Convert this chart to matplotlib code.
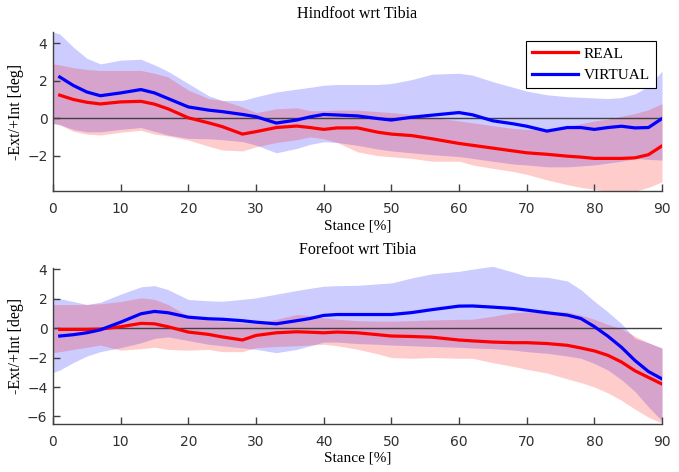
import numpy as np
import matplotlib
matplotlib.use("Agg")
import matplotlib.pyplot as plt

nan = np.nan
stance = [0, 1, 3, 5, 7, 10, 13, 15, 17, 20, 23, 25, 28, 30, 33, 36, 38, 40, 42, 45,
          48, 50, 53, 56, 60, 62, 65, 68, 70, 73, 76, 78, 80, 82, 84, 86, 88, 90]

# ---- Hindfoot wrt Tibia ----
hind_real_mean = [nan, 1.23, 1.0, 0.85, 0.76, 0.87, 0.9, 0.75, 0.5, 0.02, -0.25, -0.45, -0.85, -0.72,
                  -0.5, -0.42, -0.5, -0.6, -0.52, -0.52, -0.75, -0.85, -0.93, -1.1, -1.35, -1.45,
                  -1.6, -1.75, -1.85, -1.93, -2.03, -2.08, -2.15, -2.15, -2.15, -2.12, -1.95, -1.48]
hind_real_upper = [2.9, 2.85, 2.7, 2.6, 2.55, 2.55, 2.55, 2.4, 2.2, 1.5, 1.05, 0.95, 0.6, 0.3, 0.5,
                   0.55, 0.4, 0.4, 0.43, 0.43, 0.35, 0.3, 0.2, 0.05, -0.15, -0.25, -0.4, -0.55,
                   -0.6, -0.6, -0.45, -0.3, -0.15, -0.05, 0.1, 0.25, 0.45, 0.78]
hind_real_lower = [-0.28, -0.35, -0.7, -0.85, -0.9, -0.75, -0.65, -0.85, -0.95, -1.17, -1.5, -1.7,
                   -1.75, -1.53, -1.3, -1.15, -1.0, -1.1, -1.3, -1.8, -2.0, -2.06, -2.15, -2.3,
                   -2.3, -2.5, -2.68, -2.85, -3.0, -3.3, -3.55, -3.7, -3.8, -3.9, -3.95, -3.9,
                   -3.7, -3.4]
hind_virt_mean = [nan, 2.2, 1.75, 1.4, 1.2, 1.35, 1.53, 1.35, 1.05, 0.6, 0.43, 0.35, 0.2, 0.08,
                  -0.26, -0.1, 0.07, 0.2, 0.17, 0.12, -0.02, -0.1, 0.05, 0.16, 0.3, 0.18, -0.14,
                  -0.3, -0.43, -0.69, -0.5, -0.5, -0.6, -0.5, -0.43, -0.52, -0.5, -0.02]
hind_virt_upper = [4.6, 4.5, 3.8, 3.2, 2.9, 3.1, 3.15, 2.85, 2.5, 1.85, 1.2, 0.95, 0.95, 1.14, 1.4,
                   1.55, 1.65, 1.76, 1.8, 1.8, 1.8, 1.85, 2.06, 2.35, 2.4, 2.3, 1.95, 1.65, 1.45,
                   1.25, 1.15, 1.12, 1.08, 1.05, 1.1, 1.3, 1.7, 2.52]
hind_virt_lower = [-0.28, -0.35, -0.6, -0.73, -0.73, -0.6, -0.5, -0.7, -0.9, -1.08, -1.1, -1.15,
                   -1.25, -1.44, -1.85, -1.62, -1.4, -1.26, -1.3, -1.45, -1.65, -1.75, -1.85,
                   -1.95, -2.05, -2.15, -2.3, -2.45, -2.5, -2.6, -2.6, -2.55, -2.5, -2.4, -2.3,
                   -2.15, -2.2, -2.24]

# ---- Forefoot wrt Tibia ----
fore_real_mean = [nan, -0.09, -0.09, -0.09, -0.07, 0.09, 0.32, 0.29, 0.09, -0.27, -0.43, -0.6,
                  -0.81, -0.5, -0.32, -0.25, -0.28, -0.32, -0.27, -0.32, -0.45, -0.54, -0.57,
                  -0.62, -0.81, -0.87, -0.95, -0.99, -0.99, -1.05, -1.17, -1.35, -1.55, -1.85,
                  -2.3, -2.9, -3.35, -3.8]
fore_real_upper = [1.6, 1.6, 1.6, 1.6, 1.65, 1.8, 2.05, 1.95, 1.6, 0.81, 0.55, 0.47, 0.35, 0.32,
                   0.6, 0.92, 0.85, 0.7, 0.6, 0.5, 0.47, 0.47, 0.5, 0.55, 0.59, 0.6, 0.8, 1.05,
                   1.1, 1.1, 1.1, 0.88, 0.6, 0.25, -0.05, -0.55, -1.0, -1.37]
fore_real_lower = [-1.67, -1.6, -1.45, -1.3, -1.15, -1.5, -1.4, -1.3, -1.45, -1.5, -1.45, -1.6,
                   -1.6, -1.33, -1.25, -1.2, -1.15, -1.1, -1.2, -1.44, -1.75, -2.0, -2.05, -2.0,
                   -2.05, -2.05, -2.35, -2.6, -2.8, -3.05, -3.45, -3.7, -4.0, -4.4, -4.9, -5.5,
                   -6.05, -6.45]
fore_virt_mean = [nan, -0.54, -0.45, -0.32, -0.12, 0.4, 0.97, 1.13, 1.04, 0.74, 0.63, 0.6, 0.5,
                  0.4, 0.29, 0.5, 0.65, 0.86, 0.92, 0.92, 0.92, 0.92, 1.05, 1.25, 1.49, 1.5, 1.42,
                  1.33, 1.22, 1.04, 0.88, 0.65, 0.1, -0.55, -1.3, -2.2, -2.95, -3.45]
fore_virt_upper = [2.05, 2.0, 1.8, 1.6, 1.75, 2.3, 2.8, 2.88, 2.61, 1.94, 1.85, 1.82, 1.95, 2.05,
                   2.3, 2.55, 2.7, 2.84, 2.88, 2.9, 3.0, 3.06, 3.4, 3.68, 3.85, 4.0, 4.19, 3.8,
                   3.51, 3.45, 3.2, 2.61, 1.82, 1.1, 0.3, -0.7, -1.0, -1.35]
fore_virt_lower = [-3.02, -2.85, -2.34, -1.9, -1.6, -1.33, -1.0, -0.7, -0.6, -0.85, -1.1, -1.2,
                   -1.35, -1.44, -1.67, -1.45, -1.2, -0.95, -0.95, -1.05, -1.1, -1.15, -1.2,
                   -1.25, -1.3, -1.35, -1.4, -1.49, -1.6, -1.71, -1.9, -2.05, -2.4, -2.85, -3.5,
                   -4.3, -5.35, -6.3]

titles = ["Hindfoot wrt Tibia", "Forefoot wrt Tibia"]
xlabel = "Stance [%]"
ylabel = "-Ext/+Int [deg]"
legend_labels = ["REAL", "VIRTUAL"]
x_ticks = [0, 10, 20, 30, 40, 50, 60, 70, 80, 90]
y_ticks = [[-2, 0, 2, 4], [-6, -4, -2, 0, 2, 4]]
y_limits = [(-3.9, 4.6), (-6.5, 4.07)]

serif = ["Liberation Serif", "DejaVu Serif"]

fig = plt.figure(figsize=(6.79, 4.72), dpi=100)
ax1 = fig.add_axes([0.078, 0.595, 0.897, 0.337])
ax2 = fig.add_axes([0.078, 0.102, 0.897, 0.330])

panels = [
    (ax1, hind_real_mean, hind_real_upper, hind_real_lower,
     hind_virt_mean, hind_virt_upper, hind_virt_lower),
    (ax2, fore_real_mean, fore_real_upper, fore_real_lower,
     fore_virt_mean, fore_virt_upper, fore_virt_lower),
]

x = np.array(stance, dtype=float)
for i, (ax, rm, ru, rl, vm, vu, vl) in enumerate(panels):
    clip = (i == 0)
    ax.fill_between(x, vl, vu, color="blue", alpha=0.2, linewidth=0, clip_on=clip)
    ax.fill_between(x, rl, ru, color="red", alpha=0.2, linewidth=0, clip_on=clip)
    ax.axhline(0, color="#404040", linewidth=1.0, zorder=2)
    lr, = ax.plot(x, rm, color="red", linewidth=2.3, label=legend_labels[0], zorder=3)
    lv, = ax.plot(x, vm, color="blue", linewidth=2.3, label=legend_labels[1], zorder=3)
    ax.set_xlim(0, 90)
    ax.set_ylim(*y_limits[i])
    ax.set_xticks(x_ticks)
    ax.set_yticks(y_ticks[i])
    for s in ("top", "right"):
        ax.spines[s].set_visible(False)
    for s in ("left", "bottom"):
        ax.spines[s].set_color("#404040")
        ax.spines[s].set_linewidth(1.0)
    ax.tick_params(direction="in", length=5, width=1, colors="#404040",
                   labelcolor="#303030", labelsize=10)
    ax.tick_params(axis="x", pad=8)
    ax.tick_params(axis="y", pad=4)
    ax.set_title(titles[i], fontsize=11.5, family=serif, pad=10)
    ax.set_xlabel(xlabel, fontsize=11, family=serif, labelpad=2)
    ax.set_ylabel(ylabel, fontsize=11.5, family=serif)
    ax.yaxis.set_label_coords(-0.048, 0.5)
    if i == 0:
        leg = ax.legend(handles=[lr, lv], loc="upper right", bbox_to_anchor=(0.99, 0.945),
                        borderaxespad=0,
                        prop={"family": serif, "size": 11}, fancybox=False, framealpha=1,
                        edgecolor="black", handlelength=3.0, borderpad=0.4,
                        labelspacing=0.5, handletextpad=0.4)
        leg.get_frame().set_linewidth(0.8)

fig.savefig("out.png", dpi=100)
